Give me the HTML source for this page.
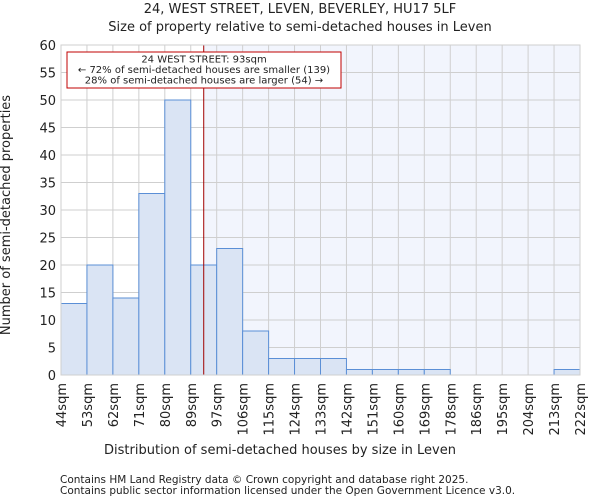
<!DOCTYPE html>
<html><head><meta charset="utf-8"><style>
body{margin:0;background:#fff;font-family:"DejaVu Sans","Liberation Sans",sans-serif}
svg text{font-family:"DejaVu Sans","Liberation Sans",sans-serif;fill:#222}
</style></head><body>
<svg width="600" height="500">
<text x="300" y="13" font-size="13" text-anchor="middle">24, WEST STREET, LEVEN, BEVERLEY, HU17 5LF</text>
<text x="300" y="31" font-size="13" text-anchor="middle">Size of property relative to semi-detached houses in Leven</text>
<g id="plot"></g>
<text x="280" y="454" font-size="13" text-anchor="middle">Distribution of semi-detached houses by size in Leven</text>
<text transform="translate(10,215) rotate(-90)" font-size="13" text-anchor="middle">Number of semi-detached properties</text>
<text x="60" y="483" font-size="10.5">Contains HM Land Registry data © Crown copyright and database right 2025.</text>
<text x="60" y="494" font-size="10.5">Contains public sector information licensed under the Open Government Licence v3.0.</text>
</svg>
<script>
const binLabels=["44sqm","53sqm","62sqm","71sqm","80sqm","89sqm","97sqm","106sqm","115sqm","124sqm","133sqm","142sqm","151sqm","160sqm","169sqm","178sqm","186sqm","195sqm","204sqm","213sqm","222sqm"];
const counts=[13,20,14,33,50,20,23,8,3,3,3,1,1,1,1,0,0,0,0,1];
const yTicks=[0,5,10,15,20,25,30,35,40,45,50,55,60];
const propertyBinPos=5.5;
const NS="http://www.w3.org/2000/svg";
const g=document.getElementById('plot');
const x0=61,x1=580,y0=375,y1=45,yMax=60;
const bw=(x1-x0)/counts.length;
const xs=i=>x0+i*bw;
const ys=v=>y0-(v/yMax)*(y0-y1);
function mk(t,a){const e=document.createElementNS(NS,t);for(const k in a)e.setAttribute(k,a[k]);g.appendChild(e);return e;}
const lx=xs(propertyBinPos);
let e=mk('rect',{x:lx,y:y1,width:x1-lx,height:y0-y1,fill:'#f2f5fd'});


yTicks.forEach(t=>{
 let l=mk('line',{x1:x0,x2:x1,y1:ys(t),y2:ys(t),stroke:'#cfcfcf','stroke-width':1});
 
 
 let tx=mk('text',{x:x0-5,y:ys(t)+5,'font-size':13,'text-anchor':'end'});tx.textContent=t;
 
 
});
binLabels.forEach((b,i)=>{
 let l=mk('line',{x1:xs(i),x2:xs(i),y1:y1,y2:y0,stroke:'#cfcfcf','stroke-width':1});
 
 
 let tx=mk('text',{transform:`translate(${xs(i)+5},${y0+8}) rotate(-90)`,'font-size':13,'text-anchor':'end'});tx.textContent=b;
 
 
});
counts.forEach((c,i)=>{
 if(c<=0)return;
 let r=mk('rect',{x:xs(i),y:ys(c),width:bw,height:y0-ys(c),fill:'#dae4f4',stroke:'#5b8fd6','stroke-width':1});
 
 
});
e=mk('line',{x1:lx,x2:lx,y1:y1,y2:y0,stroke:'#a00000','stroke-width':1});


e=mk('rect',{x:67,y:52,width:274,height:36,fill:'#fff',stroke:'#c00000','stroke-width':1});


["24 WEST STREET: 93sqm","← 72% of semi-detached houses are smaller (139)","28% of semi-detached houses are larger (54) →"].forEach((s,i)=>{
 let t=mk('text',{x:204,y:62.5+i*10.5,'font-size':10,'text-anchor':'middle'});t.textContent=s;
 
 
});
e=mk('rect',{x:x0,y:y1,width:x1-x0,height:y0-y1,fill:'none',stroke:'#cfcfcf'});


</script>
</body></html>
